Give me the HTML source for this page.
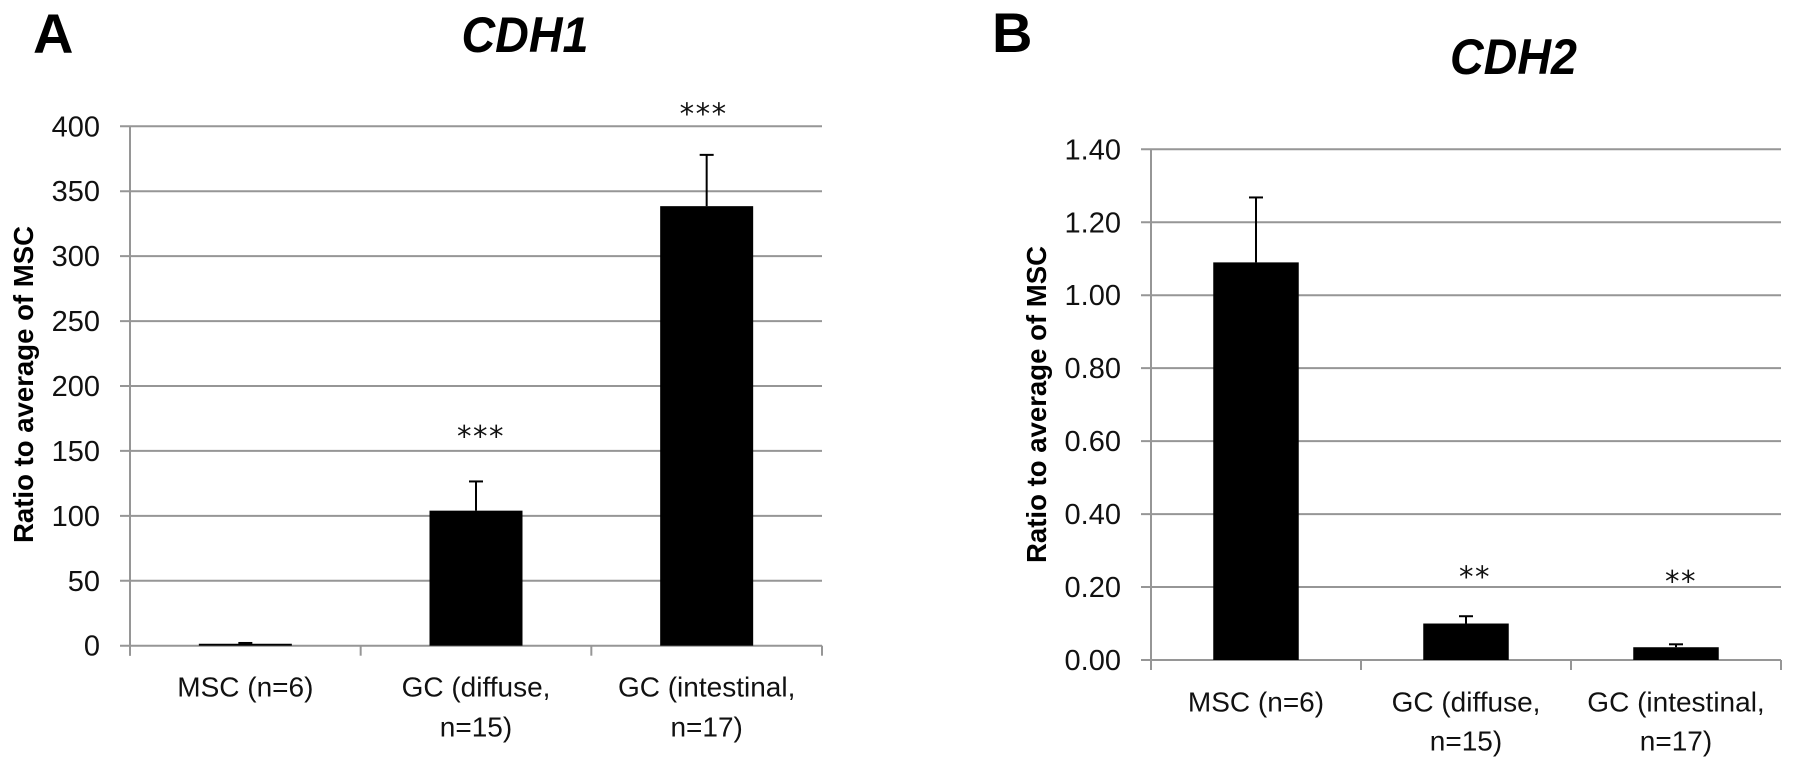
<!DOCTYPE html>
<html lang="en">
<head>
<meta charset="utf-8">
<title>CDH1 and CDH2 expression</title>
<style>
html,body{margin:0;padding:0;background:#fff;width:1795px;height:768px;overflow:hidden}
svg{display:block}
text{font-family:"Liberation Sans",sans-serif;fill:#111}
.tick{font-size:29px}
.cat{font-size:28px}
.ytitle{font-size:28px;font-weight:bold;fill:#000}
.panel{font-size:56px;font-weight:bold;fill:#000}
.title{font-size:50px;font-weight:bold;font-style:italic;fill:#000}
.sig{font-family:"DejaVu Sans",sans-serif;font-size:29px;letter-spacing:1.5px}
</style>
</head>
<body>
<svg id="figure" xmlns="http://www.w3.org/2000/svg" width="1795" height="768" viewBox="0 0 1795 768">
  <rect width="1795" height="768" fill="#fff"/>
  <text class="panel" x="33" y="53">A</text>
  <text class="panel" x="992" y="52">B</text>
  <text class="title" x="525" y="52" text-anchor="middle" textLength="127" lengthAdjust="spacingAndGlyphs">CDH1</text>
  <text class="title" x="1513.5" y="74" text-anchor="middle" textLength="127" lengthAdjust="spacingAndGlyphs">CDH2</text>
  <text class="ytitle" transform="translate(33,384.5) rotate(-90)" text-anchor="middle" textLength="317" lengthAdjust="spacingAndGlyphs">Ratio to average of MSC</text>
  <text class="ytitle" transform="translate(1046,404.5) rotate(-90)" text-anchor="middle" textLength="317" lengthAdjust="spacingAndGlyphs">Ratio to average of MSC</text>
  <g id="chart-a"></g>
  <g id="chart-b"></g>
</svg>
<script>
const categories = [["MSC (n=6)"], ["GC (diffuse,", "n=15)"], ["GC (intestinal,", "n=17)"]];
const cdh1Values = [1.5, 104, 338.5];
const cdh1Errors = [0.6, 22.5, 39.5];
const cdh1Significance = ["", "***", "***"];
const cdh1Ticks = ["0", "50", "100", "150", "200", "250", "300", "350", "400"];
const cdh2Values = [1.09, 0.1, 0.035];
const cdh2Errors = [0.178, 0.02, 0.008];
const cdh2Significance = ["", "**", "**"];
const cdh2Ticks = ["0.00", "0.20", "0.40", "0.60", "0.80", "1.00", "1.20", "1.40"];

const NS = "http://www.w3.org/2000/svg";
function make(parent, tag, attrs, content) {
  const el = document.createElementNS(NS, tag);
  for (const k in attrs) el.setAttribute(k, attrs[k]);
  if (content !== undefined) el.textContent = content;
  parent.appendChild(el);
  return el;
}

function drawChart(root, frame, values, errors, significance, ticks) {
  const yMax = parseFloat(ticks[ticks.length - 1]);
  const y = v => frame.bottom - (v / yMax) * (frame.bottom - frame.top);
  const band = (frame.right - frame.left) / values.length;
  const x = i => frame.left + band * (i + 0.5);
  const gridColor = "#969696";

  ticks.forEach(t => {
    const v = parseFloat(t);
    const grid = make(root, "line", {x1: frame.left - 10, x2: frame.right, y1: y(v), y2: y(v), stroke: gridColor, "stroke-width": 2});
    
    
    const label = make(root, "text", {class: "tick", x: frame.left - 30, y: y(v) + 10, "text-anchor": "end"}, t);
    
    
  });

  const yAxis = make(root, "line", {x1: frame.left, x2: frame.left, y1: frame.top, y2: frame.bottom + 10, stroke: gridColor, "stroke-width": 2});
  
  

  for (let i = 0; i <= values.length; i++) {
    const tx = frame.left + band * i;
    const tick = make(root, "line", {x1: tx, x2: tx, y1: frame.bottom, y2: frame.bottom + 10, stroke: gridColor, "stroke-width": 2});
    
    
  }

  values.forEach((v, i) => {
    const cx = x(i);
    const errTop = y(v + errors[i]);
    const stem = make(root, "line", {x1: cx, x2: cx, y1: errTop, y2: y(v), stroke: "#000", "stroke-width": 2});
    
    
    const cap = make(root, "line", {x1: cx - 7, x2: cx + 7, y1: errTop, y2: errTop, stroke: "#000", "stroke-width": 2});
    
    
    const bar = make(root, "rect", {x: cx - frame.barWidth / 2, y: y(v), width: frame.barWidth, height: frame.bottom - y(v), fill: "#000"});
    
    

    categories[i].forEach((line, n) => {
      const cat = make(root, "text", {class: "cat", x: cx, y: frame.catY + n * frame.catGap, "text-anchor": "middle"}, line);
      
      
    });

    if (significance[i]) {
      const sig = make(root, "text", {class: "sig", x: cx + frame.sigDx[i], y: errTop - frame.sigGap[i], "text-anchor": "middle"}, significance[i]);
      
      
    }
  });
}

drawChart(document.getElementById("chart-a"),
  {left: 130, right: 822, top: 126.3, bottom: 645.7, barWidth: 93, catY: 696.5, catGap: 40, sigDx: [0, 5, -3], sigGap: [0, 35, 31]},
  cdh1Values, cdh1Errors, cdh1Significance, cdh1Ticks);
drawChart(document.getElementById("chart-b"),
  {left: 1151, right: 1781, top: 149.3, bottom: 660, barWidth: 85.5, catY: 711.5, catGap: 39, sigDx: [0, 9, 5], sigGap: [0, 29, 53]},
  cdh2Values, cdh2Errors, cdh2Significance, cdh2Ticks);
</script>
</body>
</html>
